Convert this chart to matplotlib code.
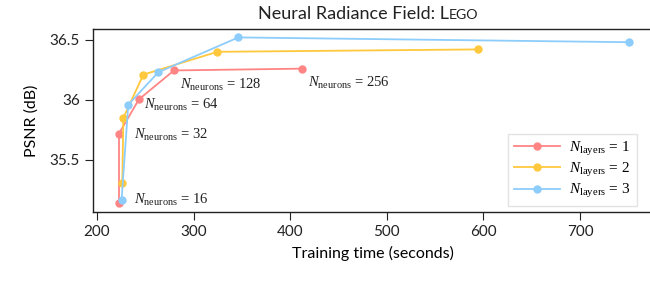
import matplotlib
matplotlib.use("Agg")
import matplotlib.pyplot as plt

# Data
time_l1 = [222.8, 222.8, 243.5, 279.7, 412.5]
psnr_l1 = [35.14, 35.72, 36.005, 36.245, 36.26]
time_l2 = [226.2, 227.3, 248.0, 324.5, 594.0]
psnr_l2 = [35.31, 35.85, 36.21, 36.40, 36.42]
time_l3 = [225.5, 232.4, 263.5, 346.3, 750.3]
psnr_l3 = [35.17, 35.96, 36.23, 36.52, 36.48]
series_labels = [r"$N_{\mathrm{layers}}$ = 1", r"$N_{\mathrm{layers}}$ = 2", r"$N_{\mathrm{layers}}$ = 3"]
neuron_counts = [16, 32, 64, 128, 256]
xticks = [200, 300, 400, 500, 600, 700]
yticks = [35.5, 36.0, 36.5]
ytick_labels = ["35.5", "36", "36.5"]

colors = ["#ff8585", "#ffc83d", "#8dcdfb"]

plt.rcParams['mathtext.fontset'] = 'custom'
plt.rcParams['mathtext.rm'] = 'Liberation Serif'
plt.rcParams['mathtext.it'] = 'Liberation Serif:italic'
plt.rcParams['font.family'] = ['Lato', 'DejaVu Sans']

fig = plt.figure(figsize=(6.5, 2.82), dpi=100)
ax = fig.add_axes([93.3/650, (282-212.3)/282, (652-93.3)/650, (212.3-29)/282])

for t, p, c, lab in zip([time_l1, time_l2, time_l3], [psnr_l1, psnr_l2, psnr_l3], colors, series_labels):
    ax.plot(t, p, '-o', color=c, lw=1.3, ms=5, label=lab)

ax.set_xlim(196.2, 774.5)
ax.set_ylim(35.064, 36.59)
ax.set_xticks(xticks)
ax.set_yticks(yticks)
ax.set_yticklabels(ytick_labels)
ax.tick_params(labelsize=11, direction='out', length=6, width=0.8, colors='#222222')
ax.tick_params(axis='x', pad=3)
for s in ax.spines.values():
    s.set_linewidth(1.0)
    s.set_color('#222222')

ax.set_xlabel("Training time (seconds)", fontsize=11.5, labelpad=5)
ax.set_ylabel("PSNR (dB)", fontsize=11.5, labelpad=8)

serif = 'Liberation Serif'
ann_pos = [(238.3, 35.17), (238.3, 35.705), (248.6, 35.955), (286, 36.125), (418, 36.14)]
for n, (x, y) in zip(neuron_counts, ann_pos):
    ax.text(x, y, r"$N_{\mathrm{neurons}}$ = %d" % n, fontsize=10.5, family=serif,
            va='center', ha='left', color='#222222')

leg = ax.legend(loc='lower right', bbox_to_anchor=(0.9726, 0.034), prop={'family': serif, 'size': 11},
                frameon=True, fancybox=False, edgecolor='#dddddd', handlelength=3.0,
                borderpad=0.4, labelspacing=0.2, handletextpad=0.6, borderaxespad=0)
leg.get_frame().set_linewidth(1.0)

# Title with small caps "Lego"
fig.canvas.draw()
r = fig.canvas.get_renderer()
t1 = fig.text(0, 0, "Neural Radiance Field: L", fontsize=13, family='Lato')
t2 = fig.text(0, 0, "EGO", fontsize=10.2, family='Lato')
w1 = t1.get_window_extent(r).width / fig.bbox.width
w2 = t2.get_window_extent(r).width / fig.bbox.width
cx = 368 / 650
ty = (282 - 19) / 282
x0 = cx - (w1 + w2) / 2
t1.set_position((x0, ty))
t2.set_position((x0 + w1, ty))
t1.set_va('baseline'); t2.set_va('baseline')
t1.set_color('#222222'); t2.set_color('#222222')

fig.savefig("out.png", dpi=100)
